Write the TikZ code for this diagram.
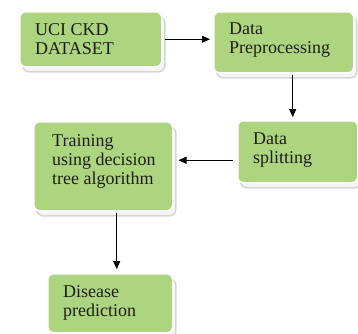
\documentclass[tikz,border=0pt]{standalone}
\usepackage{fontspec}
\setmainfont{Liberation Serif}
\usetikzlibrary{arrows.meta,shadows}
\definecolor{boxgreen}{RGB}{173,213,128}
\definecolor{txt}{RGB}{30,30,20}
\begin{document}
\begin{tikzpicture}[x=1bp,y=-1bp,
  box/.style={draw=white, line width=1.5bp, fill=boxgreen, rounded corners=6bp, inner sep=0pt, anchor=north west,
    general shadow={fill=black!4, draw=black!16, line width=1.5bp, shadow xshift=3bp, shadow yshift=-5bp}},
  lbl/.style={anchor=north west, inner sep=0pt, align=left, text=txt, font=\fontsize{18bp}{19bp}\selectfont},
  arr/.style={-{Triangle[length=8bp,width=7bp]}, line width=0.8bp}]
\useasboundingbox (0,0) rectangle (358,334);
\node[box, minimum width=142bp, minimum height=55bp] (b1) at (19,11) {};
\node[box, minimum width=140bp, minimum height=61bp] (b2) at (213,11) {};
\node[box, minimum width=120bp, minimum height=62bp] (b3) at (237,120) {};
\node[box, minimum width=139bp, minimum height=89bp] (b4) at (33,121) {};
\node[box, minimum width=125bp, minimum height=59bp] (b5) at (47,273) {};
\node[lbl] (t1) at (35,23) {UCI CKD\\DATASET};
\node[lbl] (t2) at (229,22.3) {Data\\Preprocessing};
\node[lbl] (t3) at (253,132.3) {Data\\splitting};
\node[lbl] (t4) at (52,134) {Training\\using decision\\tree algorithm};
\node[lbl] (t5) at (63,285) {Disease\\prediction};
\draw[arr, shorten <=2bp, shorten >=3bp] (b1.east) -- (b1.east -| b2.west);
\draw[arr, shorten <=1bp, shorten >=3bp] ([xshift=9bp]b2.south) -- ([xshift=9bp]b2.south |- b3.north);
\draw[arr, shorten <=4bp, shorten >=5bp] ([yshift=-8.5bp]b3.west) -- ([yshift=-8.5bp]b3.west -| b4.east);
\draw[arr, shorten <=1bp, shorten >=4bp] ([xshift=13.5bp]b4.south) -- ([xshift=13.5bp]b4.south |- b5.north);
\end{tikzpicture}
\end{document}
